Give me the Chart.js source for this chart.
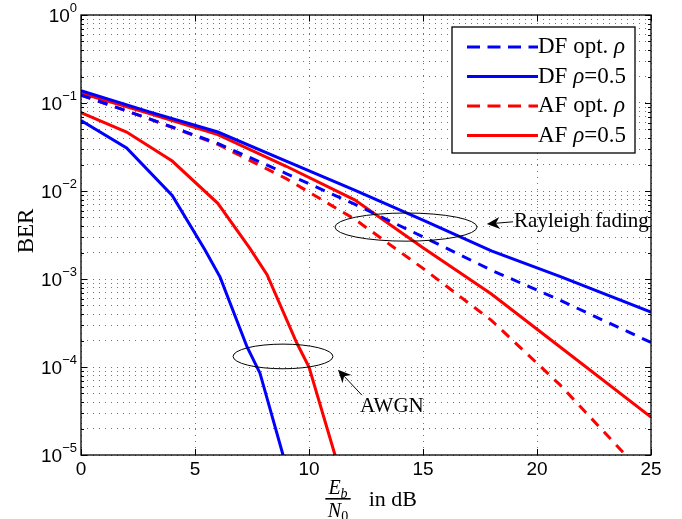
<!DOCTYPE html>
<html><head><meta charset="utf-8">
<script src="https://cdn.jsdelivr.net/npm/chart.js@4/dist/chart.umd.min.js"></script>
<style>html,body{margin:0;padding:0;background:#fff;}#wrap{width:682px;height:519px;}</style>
</head><body><div id="wrap"><canvas id="c" width="682" height="519"></canvas></div>
<script>
// ---- data ----
const ebn0Rayleigh      = [0, 3, 6, 9, 12, 15, 18, 21, 25];
const ebn0RayleighAFopt = [0, 3, 6, 9, 12, 15, 18, 21, 24];
const berDFopt   = [0.123, 0.066, 0.0347, 0.0158, 0.00708, 0.00302, 0.00126, 0.000575, 0.00019];
const berDF05    = [0.138, 0.0794, 0.0468, 0.0219, 0.0102, 0.00468, 0.00209, 0.00107, 0.00042];
const berAFopt   = [0.123, 0.066, 0.0339, 0.0138, 0.00479, 0.00132, 0.000339, 0.000063, 0.0000093];
const berAF05    = [0.129, 0.0759, 0.0437, 0.0191, 0.00794, 0.00226, 0.000676, 0.00017, 0.0000269];
const ebn0AwgnDF = [0, 2, 4, 5.44, 6.1, 7.28, 7.85, 8.86, 9.2];
const berAwgnDF  = [0.0631, 0.0309, 0.00891, 0.00214, 0.00105, 0.00017, 0.0000851, 0.00001, 0.000005];
const ebn0AwgnAF = [0, 2, 4, 6, 7.4, 8.16, 9.47, 10.0, 11.14, 11.4];
const berAwgnAF  = [0.0776, 0.0468, 0.0219, 0.00724, 0.00224, 0.00112, 0.000186, 0.0001, 0.00001, 0.0000056];
const xTicks = [0, 5, 10, 15, 20, 25];
const yDecades = [-5, -4, -3, -2, -1, 0];
const legendLabels = ['DF opt. ', 'DF ', 'AF opt. ', 'AF '];
const legendTails = ['ρ', 'ρ', 'ρ', 'ρ'];
const legendSuffix = ['', '=0.5', '', '=0.5'];

const pts = (xs, ys) => xs.map((x, i) => ({x, y: ys[i]}));
const BLUE = '#0000ff', RED = '#ff0000';
function ds(label, xs, ys, color, dashed, inLegend) {
  return {label, data: pts(xs, ys), borderColor: color, backgroundColor: color,
    borderWidth: 3, borderDash: dashed ? [10, 8] : [], pointRadius: 0, tension: 0,
    fill: false, clip: 0, inLegend};
}
const datasets = [
  ds('DF opt. ρ', ebn0Rayleigh, berDFopt, BLUE, true, 0),
  ds('DF ρ=0.5', ebn0Rayleigh, berDF05, BLUE, false, 1),
  ds('DF AWGN', ebn0AwgnDF, berAwgnDF, BLUE, false, -1),
  ds('AF opt. ρ', ebn0RayleighAFopt, berAFopt, RED, true, 2),
  ds('AF ρ=0.5', ebn0Rayleigh, berAF05, RED, false, 3),
  ds('AF AWGN', ebn0AwgnAF, berAwgnAF, RED, false, -1),
];

const yGridVals = [];
for (const d of yDecades) {
  if (d === 0) { yGridVals.push(1); break; }
  for (let m = 1; m <= 9; m++) yGridVals.push(m * Math.pow(10, d));
}

const SANS = '"Liberation Sans", Arial, Helvetica, sans-serif';
const SERIF = '"Liberation Serif", "Times New Roman", serif';

function arrow(ctx, x1, y1, x2, y2) {
  const ang = Math.atan2(y2 - y1, x2 - x1);
  const L = 13, W = 6, N = 9;
  ctx.beginPath(); ctx.moveTo(x1, y1);
  ctx.lineTo(x2 - N * Math.cos(ang), y2 - N * Math.sin(ang)); ctx.stroke();
  ctx.beginPath();
  ctx.moveTo(x2, y2);
  ctx.lineTo(x2 - L * Math.cos(ang) + W * Math.sin(ang), y2 - L * Math.sin(ang) - W * Math.cos(ang));
  ctx.lineTo(x2 - N * Math.cos(ang), y2 - N * Math.sin(ang));
  ctx.lineTo(x2 - L * Math.cos(ang) - W * Math.sin(ang), y2 - L * Math.sin(ang) + W * Math.cos(ang));
  ctx.closePath(); ctx.fill();
}

const decor = {
  id: 'decor',
  afterDatasetsDraw(chart) {
    const {ctx, chartArea: a, scales: {x, y}} = chart;
    ctx.save();
    ctx.strokeStyle = '#000'; ctx.lineWidth = 1.3; ctx.setLineDash([]);
    ctx.strokeRect(a.left, a.top, a.right - a.left, a.bottom - a.top);
    ctx.lineWidth = 1;
    ctx.beginPath();
    for (const v of yGridVals) {
      const py = Math.round(y.getPixelForValue(v)) + 0.5;
      const major = Math.abs(Math.log10(v) - Math.round(Math.log10(v))) < 1e-9;
      const len = major ? 6 : 3;
      ctx.moveTo(a.left, py); ctx.lineTo(a.left + len, py);
      ctx.moveTo(a.right, py); ctx.lineTo(a.right - len, py);
    }
    for (const v of xTicks) {
      const px = Math.round(x.getPixelForValue(v)) + 0.5;
      ctx.moveTo(px, a.bottom); ctx.lineTo(px, a.bottom - 6);
      ctx.moveTo(px, a.top); ctx.lineTo(px, a.top + 6);
    }
    ctx.stroke();
    // y tick labels 10^k
    ctx.fillStyle = '#000';
    for (const d of yDecades) {
      const py = y.getPixelForValue(Math.pow(10, d));
      ctx.font = '19px ' + SANS;
      const wb = ctx.measureText('10').width;
      const sup = d === 0 ? '0' : '−' + (-d);
      ctx.font = '13px ' + SANS;
      const ws = ctx.measureText(sup).width;
      const right = a.left - 4;
      ctx.textBaseline = 'alphabetic'; ctx.textAlign = 'left';
      ctx.font = '19px ' + SANS;
      ctx.fillText('10', right - ws - wb, py + 7);
      ctx.font = '13px ' + SANS;
      ctx.fillText(sup, right - ws, py - 3);
    }
    // x tick labels
    ctx.font = '19px ' + SANS; ctx.textAlign = 'center'; ctx.textBaseline = 'top';
    for (const v of xTicks) ctx.fillText(String(v), x.getPixelForValue(v), a.bottom + 5);
    // y title
    ctx.save();
    ctx.translate(27, (a.top + a.bottom) / 2 - 4);
    ctx.rotate(-Math.PI / 2);
    ctx.font = '23px ' + SERIF; ctx.textAlign = 'center'; ctx.textBaseline = 'middle';
    ctx.fillText('BER', 0, 0);
    ctx.restore();
    // x title: Eb/N0 in dB
    const cx = (a.left + a.right) / 2 - 28, by = a.bottom + 44;
    ctx.font = 'italic 20px ' + SERIF; ctx.textAlign = 'left'; ctx.textBaseline = 'alphabetic';
    const wE = ctx.measureText('E').width, wN = ctx.measureText('N').width;
    ctx.font = 'italic 14px ' + SERIF; const wb2 = ctx.measureText('b').width;
    ctx.font = '14px ' + SERIF; const w0 = ctx.measureText('0').width;
    const fw = Math.max(wE + wb2, wN + w0) + 5;
    ctx.fillRect(cx - fw / 2, by - 1, fw, 1.6);
    ctx.font = 'italic 20px ' + SERIF;
    ctx.fillText('E', cx - (wE + wb2) / 2, by - 5);
    ctx.fillText('N', cx - (wN + w0) / 2, by + 18);
    ctx.font = 'italic 14px ' + SERIF;
    ctx.fillText('b', cx - (wE + wb2) / 2 + wE, by - 1);
    ctx.font = '14px ' + SERIF;
    ctx.fillText('0', cx - (wN + w0) / 2 + wN, by + 22);
    ctx.font = '22px ' + SERIF;
    ctx.fillText('in dB', cx + fw / 2 + 18, by + 7);
    // annotations (in data coordinates)
    ctx.lineWidth = 1; ctx.strokeStyle = '#000';
    const ell = (x0, x1, ly0, ly1) => {
      const l = x.getPixelForValue(x0), r = x.getPixelForValue(x1);
      const t = y.getPixelForValue(Math.pow(10, ly0)), b = y.getPixelForValue(Math.pow(10, ly1));
      ctx.beginPath(); ctx.ellipse((l + r) / 2, (t + b) / 2, (r - l) / 2, (b - t) / 2, 0, 0, Math.PI * 2); ctx.stroke();
    };
    ell(11.14, 17.37, -2.25, -2.57);
    ell(6.67, 11.05, -3.74, -4.02);
    const P = (dx, ly) => [x.getPixelForValue(dx), y.getPixelForValue(Math.pow(10, ly))];
    let [tx, ty] = P(18.95, -2.35), [hx, hy] = P(17.8, -2.375);
    arrow(ctx, tx, ty, hx, hy);
    ctx.font = '21px ' + SERIF; ctx.textAlign = 'left'; ctx.textBaseline = 'middle';
    ctx.fillText('Rayleigh fading', tx + 1, ty);
    [tx, ty] = P(12.32, -4.32); [hx, hy] = P(11.27, -4.03);
    arrow(ctx, tx, ty, hx, hy);
    const [ax, ay] = P(12.24, -4.45);
    ctx.fillText('AWGN', ax, ay);
    // legend
    const L = {right: a.right - 16, top: a.top + 12, w: 183, h: 126};
    ctx.fillStyle = '#fff';
    ctx.fillRect(L.right - L.w, L.top, L.w, L.h);
    ctx.strokeStyle = '#000'; ctx.lineWidth = 1.3;
    ctx.strokeRect(L.right - L.w, L.top, L.w, L.h);
    const items = chart.data.datasets.filter(d => d.inLegend >= 0).sort((p, q) => p.inLegend - q.inLegend);
    items.forEach((d, i) => {
      const ry = L.top + 20 + i * 29.5;
      const x0 = L.right - L.w + 15, x1 = x0 + 71;
      ctx.strokeStyle = d.borderColor; ctx.lineWidth = 3; ctx.setLineDash(d.borderDash.length ? [13, 7.5] : []);
      ctx.beginPath(); ctx.moveTo(x0, ry); ctx.lineTo(x1, ry); ctx.stroke();
      ctx.setLineDash([]);
      ctx.fillStyle = '#000'; ctx.textBaseline = 'middle'; ctx.textAlign = 'left';
      let px = x1;
      ctx.font = '23px ' + SERIF; ctx.fillText(legendLabels[i], px, ry); px += ctx.measureText(legendLabels[i]).width;
      ctx.font = 'italic 23px ' + SERIF; ctx.fillText(legendTails[i], px, ry); px += ctx.measureText(legendTails[i]).width;
      ctx.font = '23px ' + SERIF; ctx.fillText(legendSuffix[i], px, ry);
    });
    ctx.restore();
  }
};

new Chart(document.getElementById('c'), {
  type: 'line',
  data: {datasets},
  options: {
    responsive: false, animation: false, devicePixelRatio: 1,
    layout: {padding: {top: 15, right: 31, left: 0, bottom: 0}},
    plugins: {legend: {display: false}, tooltip: {enabled: false}},
    scales: {
      x: {type: 'linear', min: 0, max: 25,
        afterBuildTicks: s => { s.ticks = xTicks.map(v => ({value: v})); },
        afterFit: s => { s.height = 64; },
        ticks: {display: false},
        grid: {drawTicks: false, color: 'rgba(0,0,0,0.55)', lineWidth: 1},
        border: {display: false, dash: [1, 5]}},
      y: {type: 'logarithmic', min: 1e-5, max: 1,
        afterBuildTicks: s => { s.ticks = yGridVals.map(v => ({value: v})); },
        afterFit: s => { s.width = 81; },
        ticks: {display: false},
        grid: {drawTicks: false, color: 'rgba(0,0,0,0.55)', lineWidth: 1},
        border: {display: false, dash: [1, 5]}}
    }
  },
  plugins: [decor]
});
</script>
</body></html>
